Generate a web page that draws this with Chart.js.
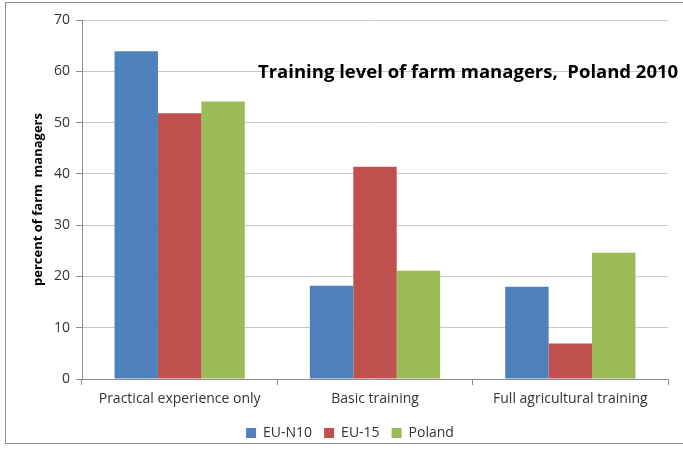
<!DOCTYPE html>
<html><head><meta charset="utf-8">
<script src="https://cdn.jsdelivr.net/npm/chart.js@4/dist/chart.umd.min.js"></script>
<style>html,body{margin:0;padding:0;background:#fff}#wrap{width:683px;height:455px;position:relative}</style>
</head><body><div id="wrap"><canvas id="c" width="683" height="455"></canvas></div>
<script>
const categories = ["Practical experience only", "Basic training", "Full agricultural training"];
const seriesNames = ["EU-N10", "EU-15", "Poland"];
const euN10 = [63.9, 18.2, 18.0];
const eu15 = [51.8, 41.4, 6.9];
const poland = [54.1, 21.1, 24.6];
const yTicks = [0, 10, 20, 30, 40, 50, 60, 70];
const chartTitle = "Training level of farm managers,  Poland 2010";
const yTitle = "percent of farm  managers";

const FONT = "'Open Sans', sans-serif";

const overlay = {
  id: 'overlay',
  afterLayout(chart) {
    const l = chart.legend;
    if (l) { l.left += 16; l.right += 16; }
  },
  afterDraw(chart) {
    const ctx = chart.ctx;
    ctx.save();
    ctx.strokeStyle = '#8c8c8c';
    ctx.lineWidth = 1;
    ctx.strokeRect(5.5, 2.5, 720, 441);
    ctx.fillStyle = '#000';
    ctx.font = "bold 18.5px " + FONT;
    ctx.textBaseline = 'middle';
    ctx.textAlign = 'left';
    ctx.fillText(chartTitle, 258, 73);
    ctx.restore();
  }
};

new Chart(document.getElementById('c'), {
  type: 'bar',
  data: {
    labels: categories,
    datasets: [
      {label: seriesNames[0], data: euN10, backgroundColor: '#4F81BD'},
      {label: seriesNames[1], data: eu15, backgroundColor: '#C0504D'},
      {label: seriesNames[2], data: poland, backgroundColor: '#9BBB59'}
    ]
  },
  options: {
    responsive: false,
    animation: false,
    devicePixelRatio: 1,
    layout: {padding: {top: 20, right: 15, left: 0, bottom: 5}},
    datasets: {bar: {barPercentage: 1, categoryPercentage: 0.667}},
    plugins: {
      legend: {
        position: 'bottom',
        labels: {boxWidth: 10, boxHeight: 10, font: {family: FONT, size: 14}, color: '#333', padding: 12}
      },
      tooltip: {enabled: false}
    },
    scales: {
      x: {
        grid: {offset: true, drawOnChartArea: false, tickLength: 6, color: '#8c8c8c'},
        border: {color: '#8c8c8c'},
        ticks: {font: {family: FONT, size: 14}, color: '#333', padding: 6, maxRotation: 0},
        afterFit(s) { s.height = 35; }
      },
      y: {
        min: 0, max: 70,
        afterBuildTicks(s) { s.ticks = yTicks.map(v => ({value: v})); },
        grid: {color: '#c8c8c8', tickLength: 6, tickColor: '#8c8c8c'},
        border: {color: '#8c8c8c'},
        ticks: {font: {family: FONT, size: 14}, color: '#333', padding: 6},
        title: {display: true, text: yTitle, font: {family: FONT, size: 13, weight: 'bold'}, color: '#000', padding: {top: 30, bottom: 0}},
        afterFit(s) { s.width = 82; }
      }
    }
  },
  plugins: [overlay]
});
</script></body></html>
